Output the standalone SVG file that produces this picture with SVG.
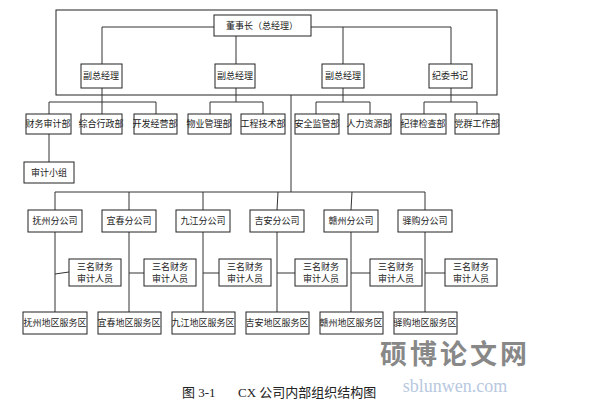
<svg xmlns="http://www.w3.org/2000/svg" width="603" height="404" viewBox="0 0 603 404">
<style>
rect{fill:#fff;stroke:#222;stroke-width:1}
.c line,.c polyline{stroke:#333;stroke-width:1;fill:none}
text{font-family:"Liberation Serif","Noto Sans CJK SC",serif;font-size:9px;fill:#222;text-anchor:middle}
</style>
<rect x="0" y="0" width="603" height="404" style="stroke:none"/>
<rect x="56" y="10" width="441" height="85" style="fill:none"/>
<g class="c">
<polyline points="102,64 102,27 451,27 451,64"/>
<line x1="343" y1="27" x2="343" y2="64"/>
<line x1="236" y1="36" x2="236" y2="64"/>
<line x1="102" y1="88" x2="102" y2="114"/>
<polyline points="49,114 49,102 156,102 156,114"/>
<line x1="236" y1="88" x2="236" y2="102"/>
<polyline points="210,114 210,102 263,102 263,114"/>
<line x1="343" y1="88" x2="343" y2="102"/>
<polyline points="316,114 316,102 370,102 370,114"/>
<line x1="451" y1="88" x2="451" y2="102"/>
<polyline points="424,114 424,102 477,102 477,114"/>
<line x1="49" y1="134" x2="49" y2="162"/>
<line x1="291" y1="95" x2="291" y2="192"/>
<polyline points="55,210 55,192 425,192 425,210"/>
<line x1="129" y1="192" x2="129" y2="210"/>
<line x1="203" y1="192" x2="203" y2="210"/>
<line x1="278" y1="192" x2="277" y2="210"/>
<line x1="352" y1="192" x2="351" y2="210"/>
<line x1="55" y1="232" x2="55" y2="312"/><line x1="55" y1="274" x2="69" y2="272"/>
<line x1="129" y1="232" x2="129" y2="312"/><line x1="129" y1="273" x2="144" y2="273"/>
<line x1="203" y1="232" x2="203" y2="312"/><line x1="203" y1="273" x2="219" y2="273"/>
<line x1="277" y1="232" x2="277" y2="312"/><line x1="277" y1="273" x2="295" y2="273"/>
<line x1="351" y1="232" x2="351" y2="312"/><line x1="351" y1="273" x2="370" y2="273"/>
<line x1="425" y1="232" x2="425" y2="312"/><line x1="425" y1="273" x2="445" y2="273"/>
</g>
<g id="chair"><rect x="214" y="15" width="97" height="21"/><text x="262" y="29">董事长（总经理）</text></g>
<g id="vp1"><rect x="81" y="64" width="41" height="24"/><text x="101" y="79">副总经理</text></g>
<g id="vp2"><rect x="215" y="64" width="40" height="24"/><text x="235" y="79">副总经理</text></g>
<g id="vp3"><rect x="322" y="64" width="42" height="24"/><text x="343" y="79">副总经理</text></g>
<g id="jw"><rect x="429" y="64" width="43" height="24"/><text x="450" y="79">纪委书记</text></g>
<g id="d1"><rect x="26" y="114" width="45" height="20"/><text x="48" y="127">财务审计部</text></g>
<g id="d2"><rect x="81" y="114" width="41" height="20"/><text x="101" y="127">综合行政部</text></g>
<g id="d3"><rect x="134" y="114" width="43" height="20"/><text x="155" y="127">开发经营部</text></g>
<g id="d4"><rect x="188" y="114" width="43" height="20"/><text x="209" y="127">物业管理部</text></g>
<g id="d5"><rect x="241" y="114" width="44" height="20"/><text x="263" y="127">工程技术部</text></g>
<g id="d6"><rect x="295" y="114" width="44" height="20"/><text x="317" y="127">安全监管部</text></g>
<g id="d7"><rect x="348" y="114" width="43" height="20"/><text x="369" y="127">人力资源部</text></g>
<g id="d8"><rect x="401" y="114" width="45" height="20"/><text x="423" y="127">纪律检查部</text></g>
<g id="d9"><rect x="455" y="114" width="44" height="20"/><text x="477" y="127">党群工作部</text></g>
<g id="audit"><rect x="24" y="162" width="50" height="21"/><text x="49" y="176">审计小组</text></g>
<g id="b1"><rect x="28" y="210" width="54" height="22"/><text x="55" y="224">抚州分公司</text></g>
<g id="b2"><rect x="102" y="210" width="54" height="22"/><text x="129" y="224">宜春分公司</text></g>
<g id="b3"><rect x="176" y="210" width="54" height="22"/><text x="203" y="224">九江分公司</text></g>
<g id="b4"><rect x="250" y="210" width="54" height="22"/><text x="277" y="224">吉安分公司</text></g>
<g id="b5"><rect x="324" y="210" width="54" height="22"/><text x="351" y="224">赣州分公司</text></g>
<g id="b6"><rect x="398" y="210" width="54" height="22"/><text x="425" y="224">驿购分公司</text></g>
<g id="s1"><rect x="69" y="259" width="52" height="27"/><text x="95" y="270">三名财务</text><text x="95" y="282">审计人员</text></g>
<g id="s2"><rect x="144" y="259" width="52" height="27"/><text x="170" y="270">三名财务</text><text x="170" y="282">审计人员</text></g>
<g id="s3"><rect x="219" y="259" width="52" height="27"/><text x="245" y="270">三名财务</text><text x="245" y="282">审计人员</text></g>
<g id="s4"><rect x="295" y="259" width="52" height="27"/><text x="321" y="270">三名财务</text><text x="321" y="282">审计人员</text></g>
<g id="s5"><rect x="370" y="259" width="52" height="27"/><text x="396" y="270">三名财务</text><text x="396" y="282">审计人员</text></g>
<g id="s6"><rect x="445" y="259" width="52" height="27"/><text x="471" y="270">三名财务</text><text x="471" y="282">审计人员</text></g>
<g id="r1"><rect x="23" y="312" width="64" height="22"/><text x="55" y="326">抚州地区服务区</text></g>
<g id="r2"><rect x="98" y="312" width="63" height="22"/><text x="129" y="326">宜春地区服务区</text></g>
<g id="r3"><rect x="172" y="312" width="63" height="22"/><text x="203" y="326">九江地区服务区</text></g>
<g id="r4"><rect x="246" y="312" width="63" height="22"/><text x="277" y="326">吉安地区服务区</text></g>
<g id="r5"><rect x="320" y="312" width="63" height="22"/><text x="351" y="326">赣州地区服务区</text></g>
<g id="r6"><rect x="394" y="312" width="63" height="22"/><text x="425" y="326">驿购地区服务区</text></g>
<text x="455" y="364" style="font-size:27px;fill:#888;font-weight:bold;letter-spacing:3px">硕博论文网</text>
<text x="455" y="392" style="font-size:18px;fill:#b8c8e0">sblunwen.com</text>
<text x="182" y="397" style="font-size:13px;text-anchor:start">图 3-1</text>
<text x="238" y="397" style="font-size:13px;text-anchor:start">CX 公司内部组织结构图</text>
</svg>
